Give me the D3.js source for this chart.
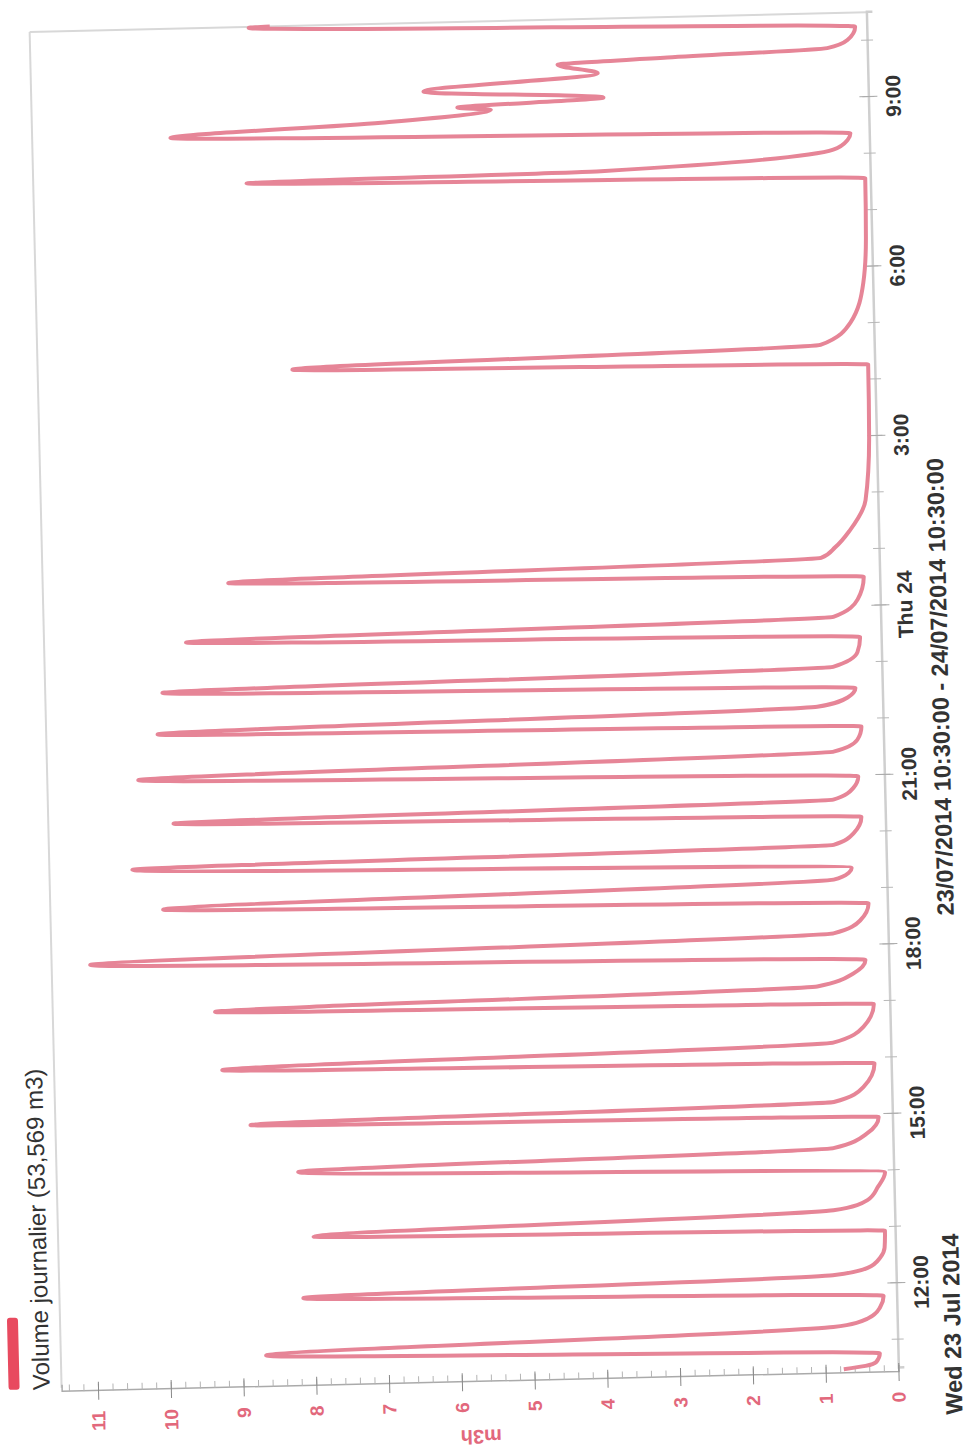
<!DOCTYPE html>
<html>
<head>
<meta charset="utf-8">
<script src="https://cdn.jsdelivr.net/npm/d3@7"></script>
<style>
  body { margin: 0; background: #fff; }
  text { font-family: "Liberation Sans", Arial, sans-serif; }
</style>
</head>
<body>
<svg width="966" height="1450"></svg>
<script>
// the data - flow, "day hh:mm" and m3/h
var flowTime = [
  "23 10:30","23 10:33","23 10:37","23 10:46","23 10:59","23 11:15","23 11:23","23 11:35","23 11:47",
  "23 11:59","23 12:10","23 12:17","23 12:28","23 12:38","23 12:56","23 13:04","23 13:19","23 13:29",
  "23 13:43","23 13:58","23 14:13","23 14:25","23 14:40","23 14:57","23 15:04","23 15:14","23 15:29",
  "23 15:54","23 16:03","23 16:17","23 16:33","23 16:57","23 17:05","23 17:17","23 17:30","23 17:44",
  "23 17:58","23 18:13","23 18:26","23 18:44","23 18:55","23 19:10","23 19:17","23 19:22","23 19:38",
  "23 19:47","23 19:59","23 20:16","23 20:26","23 20:35","23 20:47","23 20:59","23 21:13","23 21:26",
  "23 21:38","23 21:52","23 22:01","23 22:14","23 22:23","23 22:33","23 22:45","23 22:56","23 23:11",
  "23 23:27","23 23:38","23 23:49","24 00:07","24 00:31","24 00:40","24 00:52","24 01:03","24 01:21",
  "24 01:52","24 03:00","24 04:16","24 04:25","24 04:38","24 05:01","24 05:43","24 06:30","24 07:34",
  "24 07:44","24 07:48","24 08:05","24 08:15","24 08:22","24 08:34","24 08:45","24 08:56","24 08:59",
  "24 09:06","24 09:17","24 09:32","24 09:42","24 09:47","24 09:53","24 10:01","24 10:15","24 10:29",
  "24 10:30"
];
var flowValue = [
  0.75, 0.45, 0.30, 0.25, 8.68, 0.88, 0.41, 0.23, 0.18,
  8.15, 0.87, 0.39, 0.21, 0.15, 0.14, 7.99, 0.84, 0.37,
  0.22, 0.12, 8.18, 0.82, 0.35, 0.19, 8.82, 0.80, 0.39,
  0.23, 9.19, 0.79, 0.37, 0.22, 9.27, 0.99, 0.49, 0.32,
  10.97, 0.75, 0.38, 0.26, 9.95, 0.73, 0.52, 0.48, 10.36,
  0.72, 0.44, 0.33, 9.78, 0.71, 0.43, 0.36, 10.25, 0.69,
  0.36, 0.30, 9.97, 0.90, 0.48, 0.37, 9.89, 0.67, 0.33,
  0.29, 9.55, 0.65, 0.31, 0.22, 8.95, 0.80, 0.60, 0.39,
  0.17, 0.10, 0.09, 8.00, 0.74, 0.32, 0.13, 0.08, 0.07,
  8.57, 3.70, 0.50, 0.30, 0.26, 9.60, 6.70, 5.19, 5.65,
  3.64, 6.11, 3.71, 4.26, 2.75, 0.55, 0.27, 0.16, 8.49,
  8.20
];
var timeTickLabels = ["12:00", "15:00", "18:00", "21:00", "Thu 24", "3:00", "6:00", "9:00"];
var valueTicks = [0, 1, 2, 3, 4, 5, 6, 7, 8, 9, 10, 11];
var seriesName = "Volume journalier (53,569 m3)";
var dayTitle = "Wed 23 Jul 2014";
var rangeTitle = "23/07/2014 10:30:00 - 24/07/2014 10:30:00";
var yTitle = "m3h";

var svg = d3.select("svg"),
    width = 1356,
    height = 837;

var parse = d3.timeParse("%Y-%m-%d %H:%M");
var day = function(s) { return parse("2014-07-" + s); };

var x = d3.scaleTime()
    .domain([day("23 10:30"), day("24 10:30")])
    .range([0, width]);
var y = d3.scaleLinear()
    .domain([0, 11.5])
    .range([height, 0]);

// the scanned page is turned a quarter turn (and a little more)
var g = svg.append("g")
    .attr("transform", "translate(464,700) rotate(-91.35) translate(" + (-width / 2) + "," + (-height / 2) + ")");

// plot frame (top and right)
g.append("line").attr("x1", 0).attr("x2", width).attr("y1", 0).attr("y2", 0)
    .attr("stroke", "#d8d8d8").attr("stroke-width", 2);
g.append("line").attr("x1", width).attr("x2", width).attr("y1", 0).attr("y2", height)
    .attr("stroke", "#d8d8d8").attr("stroke-width", 2);

//////////// TIME AXIS ////////////
var xMinor = g.append("g")
    .attr("transform", "translate(0," + height + ")")
    .call(d3.axisBottom(x).ticks(d3.timeHour.every(1)).tickSize(6).tickFormat(""));
xMinor.select(".domain").attr("stroke", "#cfcfcf").attr("stroke-width", 2.5);
xMinor.selectAll(".tick line").attr("y1", -6).attr("stroke", "#b8b8b8");

var xMajor = x.ticks(d3.timeHour.every(3));
var xAxis = g.append("g")
    .attr("transform", "translate(0," + height + ")")
    .call(d3.axisBottom(x).tickValues(xMajor).tickSize(9)
        .tickFormat(function(d, i) { return timeTickLabels[i]; }));
xAxis.select(".domain").remove();
xAxis.selectAll(".tick line").attr("y1", -9).attr("stroke", "#aaa");
xAxis.selectAll(".tick text")
    .attr("y", 32).attr("dy", null)
    .attr("font-size", 21).attr("font-weight", "bold").attr("fill", "#333");

g.append("text")
    .attr("x", -48).attr("y", 900)
    .attr("font-size", 23.5).attr("font-weight", "bold").attr("fill", "#333")
    .text(dayTitle);
g.append("text")
    .attr("x", width / 2 + 2).attr("y", 903)
    .attr("text-anchor", "middle")
    .attr("font-size", 23.5).attr("font-weight", "bold").attr("fill", "#333")
    .text(rangeTitle);

//////////// VALUE AXIS ////////////
var yMinor = g.append("g")
    .attr("transform", "translate(-4,0)")
    .call(d3.axisRight(y).ticks(55).tickSize(7).tickFormat(""));
yMinor.select(".domain").attr("stroke", "#aaa").attr("stroke-width", 1.5);
yMinor.selectAll(".tick line").attr("stroke", "#b4b4b4");

var yAxis = g.append("g")
    .attr("transform", "translate(-4,0)")
    .call(d3.axisLeft(y).tickValues(valueTicks).tickSize(9));
yAxis.select(".domain").remove();
yAxis.selectAll(".tick line").attr("x1", 9).attr("stroke", "#888");
yAxis.selectAll(".tick text")
    .attr("x", -20)
    .attr("font-size", 19).attr("font-weight", "bold").attr("fill", "#e2687c");

g.append("text")
    .attr("transform", "translate(-52," + (height / 2) + ") rotate(-90)")
    .attr("text-anchor", "middle")
    .attr("font-size", 20).attr("font-weight", "bold").attr("fill", "#e2687c")
    .text(yTitle);

//////////// SERIES ////////////
var line = d3.line()
    .x(function(d, i) { return x(day(flowTime[i])); })
    .y(function(d) { return y(d); })
    .curve(d3.curveMonotoneX);

g.append("path")
    .datum(flowValue)
    .attr("fill", "none")
    .attr("stroke", "#e68597")
    .attr("stroke-width", 4)
    .attr("stroke-linejoin", "round")
    .attr("d", line);

// legend
g.append("rect")
    .attr("x", -1).attr("y", -53).attr("width", 72).attr("height", 11).attr("rx", 3)
    .attr("fill", "#e84a5f");
g.append("text")
    .attr("x", -2).attr("y", -12)
    .attr("font-size", 24).attr("fill", "#333")
    .text(seriesName);
</script>
</body>
</html>
